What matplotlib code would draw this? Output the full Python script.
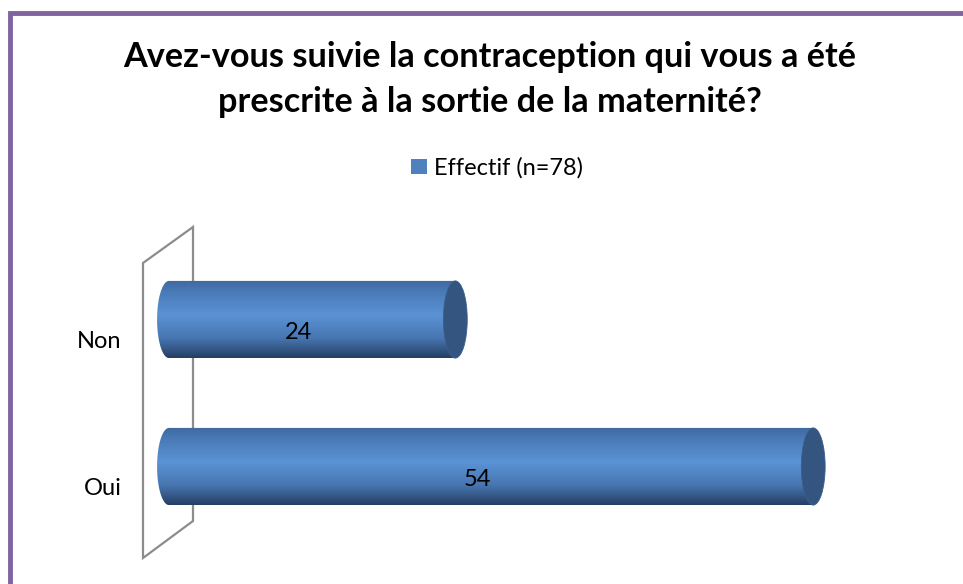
import numpy as np
import matplotlib
matplotlib.use("Agg")
import matplotlib.pyplot as plt
from matplotlib.patches import Polygon, Ellipse, Patch, Rectangle
from matplotlib.colors import LinearSegmentedColormap
from matplotlib.transforms import ScaledTranslation

# ---- data ----
categories = ["Oui", "Non"]
values = [54, 24]
series_label = "Effectif (n=78)"
title_lines = ["Avez-vous suivie la contraception qui vous a été",
               "prescrite à la sortie de la maternité?"]

# ---- style ----
FONT = "Lato"
bar_h = 0.525
cap_rx = 1.0
cap_color = "#33557f"
legend_color = "#4f81bd"
grad = LinearSegmentedColormap.from_list(
    "cyl", [(0.0, "#3f689e"), (0.15, "#4a7ab7"), (0.45, "#5b93d5"),
            (0.75, "#4775b0"), (1.0, "#253e62")])

W, H = 963, 584
fig = plt.figure(figsize=(W / 100, H / 100), dpi=100)
fig.patch.set_facecolor("white")

# purple frame
fig.add_artist(Rectangle((10 / W, -0.1), 1.2, 1.1 - 13.5 / H, transform=fig.transFigure,
                         fill=False, edgecolor="#8064a2", linewidth=3.5))

# axes: x-zero at px 169, 11.93 px/unit ; Oui at px 466.5, Non at 319.5 (147 px/unit)
ax_l, ax_r, ax_t, ax_b = 130, 930, 200, 580
ax = fig.add_axes([ax_l / W, 1 - ax_b / H, (ax_r - ax_l) / W, (ax_b - ax_t) / H])
xs = 11.93
ys = 147.0
for s in ax.spines.values():
    s.set_visible(False)
ax.set_xticks([])
ax.patch.set_alpha(0)

ypos = np.arange(len(categories))

# 3D back wall (decorative)
wall = Polygon([[(143 - 169) / xs, (466.5 - 263) / ys],
                [(193 - 169) / xs, (466.5 - 227) / ys],
                [(193 - 169) / xs, (466.5 - 521) / ys],
                [(143 - 169) / xs, (466.5 - 558) / ys]],
               closed=True, fill=False, edgecolor="#8c8c8c", linewidth=1.6, zorder=1)
ax.add_patch(wall)

gimg = np.linspace(0, 1, 256).reshape(-1, 1)
for y, v in zip(ypos, values):
    top, bot = y + bar_h / 2, y - bar_h / 2
    t = np.linspace(np.pi / 2, 3 * np.pi / 2, 60)
    arc = np.column_stack([cap_rx * np.cos(t), y + bar_h / 2 * np.sin(t)])
    pts = np.vstack([[v, top], arc, [v, bot]])
    clip = Polygon(pts, closed=True, transform=ax.transData, facecolor="none", edgecolor="none")
    ax.add_patch(clip)
    im = ax.imshow(gimg, cmap=grad, aspect="auto", extent=[-cap_rx, v, bot, top],
                   origin="upper", zorder=2, interpolation="bilinear")
    im.set_clip_path(clip)
    ax.add_patch(Ellipse((v, y), 2 * cap_rx, bar_h, facecolor=cap_color,
                         edgecolor="#3a5f8c", linewidth=0.6, zorder=3))
    ax.annotate(str(v), (v / 2, y), xytext=(-14, -13), textcoords="offset pixels",
                ha="center", va="center", fontsize=17, family=FONT, color="black", zorder=4)

ax.set_xlim((ax_l - 169) / xs, (ax_r - 169) / xs)
ax.set_ylim((466.5 - ax_b) / ys, (466.5 - ax_t) / ys)

ax.set_yticks(ypos)
ax.set_yticklabels(categories, fontsize=17, family=FONT)
ax.tick_params(axis="y", length=0, pad=6)
off = ScaledTranslation(0, -20 / 100, fig.dpi_scale_trans)
for lab in ax.get_yticklabels():
    lab.set_transform(lab.get_transform() + off)

for line, base in zip(title_lines, [67, 112]):
    fig.text(490 / W, 1 - base / H, line, ha="center", va="baseline", fontsize=24.7,
             fontweight="bold", family=FONT)

fig.legend(handles=[Patch(facecolor=legend_color, label=series_label)], loc="center",
           bbox_to_anchor=(497 / W, 1 - 168 / H), frameon=False,
           handlelength=0.64, handleheight=0.64, handletextpad=0.3,
           prop={"family": FONT, "size": 17})

fig.savefig("out.png", dpi=100)
